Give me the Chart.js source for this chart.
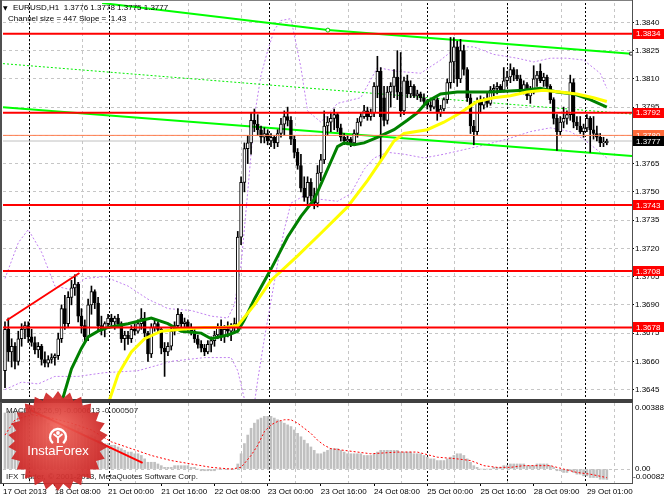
<!DOCTYPE html>
<html>
<head>
<meta charset="utf-8">
<script src="https://cdn.jsdelivr.net/npm/chart.js@4.4.1/dist/chart.umd.min.js"></script>
<style>
html,body{margin:0;padding:0;background:#ffffff;}
#wrap{position:relative;width:664px;height:498px;overflow:hidden;background:#ffffff;}
canvas{position:absolute;left:0;}
#priceCanvas{top:0;}
#macdCanvas{top:402px;}
</style>
</head>
<body>
<div id="wrap">
<canvas id="priceCanvas" width="664" height="402" style="width:664px;height:402px"></canvas>
<canvas id="macdCanvas" width="664" height="96" style="width:664px;height:96px"></canvas>
</div>
<script>
// ---------------- DATA (EURUSD H1, bar index 0 = first visible bar) ----------------
const opens = [
1.3655,1.3677,1.3665,1.3668,1.3660,1.3672,1.3677,1.3679,1.3673,1.3670,
1.3666,1.3668,1.3661,1.3659,1.3661,1.3662,1.3663,1.3672,1.3688,1.3680,
1.3694,1.3699,1.3701,1.3684,1.3679,1.3673,1.3690,1.3697,1.3691,1.3679,
1.3677,1.3680,1.3683,1.3681,1.3683,1.3680,1.3672,1.3674,1.3672,1.3677,
1.3676,1.3680,1.3683,1.3675,1.3664,1.3678,1.3680,1.3677,1.3667,1.3665,
1.3668,1.3676,1.3679,1.3685,1.3680,1.3681,1.3678,1.3676,1.3672,1.3669,
1.3667,1.3665,1.3669,1.3671,1.3674,1.3678,1.3673,1.3677,1.3676,1.3678,
1.3679,1.3726,1.3755,1.3773,1.3776,1.3788,1.3786,1.3783,1.3779,1.3781,
1.3777,1.3779,1.3776,1.3781,1.3786,1.3790,1.3788,1.3778,1.3771,1.3764,
1.3752,1.3747,1.3755,1.3748,1.3744,1.3760,1.3767,1.3785,1.3787,1.3789,
1.3791,1.3784,1.3779,1.3777,1.3778,1.3776,1.3781,1.3787,1.3790,1.3793,
1.3790,1.3792,1.3806,1.3814,1.3800,1.3788,1.3803,1.3806,1.3811,1.3803,
1.3793,1.3809,1.3802,1.3806,1.3801,1.3802,1.3800,1.3798,1.3796,1.3795,
1.3799,1.3792,1.3794,1.3799,1.3808,1.3819,1.3827,1.3810,1.3825,1.3815,
1.3800,1.3785,1.3782,1.3798,1.3796,1.3799,1.3797,1.3804,1.3805,1.3806,
1.3804,1.3809,1.3811,1.3815,1.3812,1.3810,1.3804,1.3807,1.3801,1.3803,
1.3810,1.3814,1.3809,1.3811,1.3806,1.3799,1.3789,1.3782,1.3787,1.3789,
1.3791,1.3808,1.3787,1.3785,1.3782,1.3784,1.3789,1.3783,1.3781,1.3779,
1.3776,1.3776];
const highs = [
1.3681,1.3683,1.3672,1.3670,1.3676,1.3680,1.3681,1.3681,1.3677,1.3673,
1.3670,1.3669,1.3665,1.3663,1.3664,1.3664,1.3675,1.3690,1.3695,1.3697,
1.3703,1.3706,1.3702,1.3688,1.3682,1.3693,1.3700,1.3698,1.3694,1.3684,
1.3681,1.3685,1.3685,1.3684,1.3685,1.3681,1.3676,1.3676,1.3679,1.3680,
1.3682,1.3688,1.3686,1.3676,1.3680,1.3682,1.3681,1.3678,1.3670,1.3670,
1.3678,1.3681,1.3688,1.3686,1.3683,1.3682,1.3680,1.3677,1.3674,1.3671,
1.3669,1.3671,1.3673,1.3676,1.3680,1.3682,1.3679,1.3681,1.3680,1.3683,
1.3729,1.3758,1.3776,1.3780,1.3792,1.3794,1.3791,1.3785,1.3784,1.3783,
1.3781,1.3780,1.3783,1.3789,1.3793,1.3795,1.3790,1.3780,1.3773,1.3770,
1.3758,1.3758,1.3757,1.3752,1.3764,1.3770,1.3793,1.3790,1.3792,1.3794,
1.3792,1.3786,1.3781,1.3780,1.3779,1.3783,1.3789,1.3792,1.3796,1.3795,
1.3794,1.3808,1.3822,1.3816,1.3806,1.3806,1.3808,1.3815,1.3825,1.3824,
1.3811,1.3812,1.3809,1.3807,1.3804,1.3803,1.3802,1.3799,1.3798,1.3800,
1.3800,1.3796,1.3800,1.3810,1.3832,1.3832,1.3830,1.3831,1.3828,1.3816,
1.3802,1.3788,1.3800,1.3801,1.3800,1.3803,1.3806,1.3807,1.3808,1.3807,
1.3816,1.3814,1.3818,1.3816,1.3815,1.3812,1.3809,1.3808,1.3806,1.3817,
1.3814,1.3818,1.3813,1.3812,1.3807,1.3800,1.3791,1.3790,1.3795,1.3793,
1.3812,1.3810,1.3790,1.3790,1.3786,1.3791,1.3790,1.3790,1.3785,1.3781,
1.3779,1.3778];
const lows = [
1.3646,1.3660,1.3657,1.3656,1.3658,1.3668,1.3672,1.3670,1.3668,1.3664,
1.3662,1.3658,1.3657,1.3657,1.3659,1.3658,1.3661,1.3670,1.3677,1.3678,
1.3690,1.3695,1.3681,1.3675,1.3670,1.3671,1.3685,1.3688,1.3676,1.3674,
1.3673,1.3678,1.3679,1.3677,1.3679,1.3670,1.3666,1.3669,1.3670,1.3674,
1.3675,1.3677,1.3673,1.3660,1.3662,1.3676,1.3675,1.3664,1.3652,1.3663,
1.3666,1.3674,1.3677,1.3678,1.3677,1.3676,1.3674,1.3670,1.3667,1.3665,
1.3663,1.3664,1.3665,1.3668,1.3672,1.3671,1.3670,1.3673,1.3671,1.3675,
1.3676,1.3722,1.3750,1.3765,1.3770,1.3782,1.3780,1.3776,1.3776,1.3775,
1.3774,1.3773,1.3774,1.3779,1.3780,1.3785,1.3775,1.3768,1.3762,1.3750,
1.3745,1.3743,1.3745,1.3741,1.3742,1.3756,1.3765,1.3780,1.3782,1.3783,
1.3782,1.3777,1.3775,1.3775,1.3774,1.3775,1.3779,1.3785,1.3789,1.3788,
1.3788,1.3790,1.3800,1.3767,1.3785,1.3786,1.3795,1.3800,1.3799,1.3790,
1.3791,1.3800,1.3800,1.3800,1.3799,1.3798,1.3796,1.3794,1.3793,1.3794,
1.3788,1.3790,1.3793,1.3797,1.3805,1.3808,1.3806,1.3808,1.3812,1.3798,
1.3781,1.3775,1.3780,1.3792,1.3794,1.3795,1.3796,1.3801,1.3802,1.3803,
1.3803,1.3806,1.3808,1.3809,1.3809,1.3802,1.3802,1.3799,1.3797,1.3802,
1.3806,1.3808,1.3806,1.3804,1.3797,1.3786,1.3772,1.3780,1.3784,1.3786,
1.3788,1.3784,1.3783,1.3781,1.3779,1.3782,1.3771,1.3778,1.3777,1.3774,
1.3774,1.3775];
const closes = [
1.3677,1.3665,1.3668,1.3660,1.3672,1.3677,1.3679,1.3673,1.3670,1.3666,
1.3668,1.3661,1.3659,1.3661,1.3662,1.3663,1.3672,1.3688,1.3680,1.3694,
1.3699,1.3701,1.3684,1.3679,1.3673,1.3690,1.3697,1.3691,1.3679,1.3677,
1.3680,1.3683,1.3681,1.3683,1.3680,1.3672,1.3674,1.3672,1.3677,1.3676,
1.3680,1.3683,1.3675,1.3664,1.3678,1.3680,1.3677,1.3667,1.3665,1.3668,
1.3676,1.3679,1.3685,1.3680,1.3681,1.3678,1.3676,1.3672,1.3669,1.3667,
1.3665,1.3669,1.3671,1.3674,1.3678,1.3673,1.3677,1.3676,1.3678,1.3680,
1.3726,1.3755,1.3773,1.3776,1.3788,1.3786,1.3783,1.3779,1.3781,1.3777,
1.3779,1.3776,1.3781,1.3786,1.3790,1.3788,1.3778,1.3771,1.3764,1.3752,
1.3747,1.3755,1.3748,1.3744,1.3760,1.3767,1.3785,1.3787,1.3789,1.3791,
1.3784,1.3779,1.3777,1.3778,1.3776,1.3781,1.3787,1.3790,1.3793,1.3790,
1.3792,1.3806,1.3814,1.3790,1.3788,1.3803,1.3806,1.3811,1.3803,1.3793,
1.3809,1.3802,1.3806,1.3801,1.3802,1.3800,1.3798,1.3796,1.3795,1.3799,
1.3792,1.3794,1.3799,1.3808,1.3819,1.3827,1.3810,1.3825,1.3815,1.3800,
1.3785,1.3782,1.3798,1.3796,1.3799,1.3797,1.3804,1.3805,1.3806,1.3804,
1.3809,1.3811,1.3815,1.3812,1.3810,1.3804,1.3807,1.3801,1.3803,1.3810,
1.3812,1.3809,1.3811,1.3806,1.3799,1.3789,1.3782,1.3787,1.3789,1.3791,
1.3808,1.3787,1.3785,1.3782,1.3784,1.3789,1.3783,1.3781,1.3779,1.3776,
1.3776,1.3777];

// moving averages (read at sample bars)
const maGreenBars = [16,20,23,25,28,31,37,44,49,53,59,62,67,70,72,75,80,85,89,93,98,100,102,105,108,112,117,121,124,127,131,136,146,156,161,166,171,176,181];
const maGreenVals = [1.3632,1.3656,1.3667,1.3673,1.3676,1.3678,1.3680,1.3683,1.3680,1.3676,1.3675,1.3672,1.3674,1.3676,1.3682,1.3693,1.3709,1.3726,1.3737,1.3746,1.3766,1.3774,1.3776,1.3775,1.3776,1.3779,1.3783,1.3788,1.3792,1.3798,1.3802,1.3803,1.3803,1.3804,1.3805,1.3803,1.3802,1.3799,1.3795];
const maYellowBars = [30,34,38,42,47,53,60,66,70,75,80,88,95,103,109,114,117,120,127,132,137,142,147,152,157,162,167,172,177,181];
const maYellowVals = [1.3632,1.3653,1.3665,1.3672,1.3676,1.3677,1.3678,1.3678,1.3679,1.3690,1.3703,1.3716,1.3728,1.3742,1.3756,1.3769,1.3777,1.3781,1.3783,1.3787,1.3792,1.3798,1.3800,1.3801,1.3803,1.3804,1.3803,1.3802,1.3800,1.3798];
const bbUpperBars = [0,4,7,11,15,20,24,30,37,43,49,56,62,67,69,71,73,75,77,79,81,83,86,89,91,95,100,107,112,118,125,131,136,141,147,154,159,164,169,174,179,181];
const bbUpperVals = [1.3704,1.3723,1.3730,1.3718,1.3700,1.3698,1.3704,1.3705,1.3700,1.3693,1.3688,1.3687,1.3684,1.3683,1.3690,1.3711,1.3750,1.3790,1.3812,1.3825,1.3836,1.3841,1.3842,1.3816,1.3793,1.3787,1.3797,1.3800,1.3816,1.3814,1.3813,1.3820,1.3827,1.3827,1.3823,1.3821,1.3819,1.3821,1.3821,1.3820,1.3813,1.3805];
const bbLowerBars = [0,5,10,15,22,30,40,50,60,68,70,72,74,76,78,80,82,84,86,90,95,100,104,108,111,115,120,126,132,137,142,151,158,164,170,174,179,181];
const bbLowerVals = [1.3645,1.3649,1.3648,1.3652,1.3652,1.3654,1.3655,1.3660,1.3662,1.3662,1.3655,1.3640,1.3625,1.3650,1.3672,1.3692,1.3712,1.3730,1.3744,1.3748,1.3746,1.3745,1.3749,1.3762,1.3768,1.3771,1.3770,1.3768,1.3770,1.3772,1.3774,1.3778,1.3782,1.3784,1.3782,1.3778,1.3771,1.3768];

// drawn objects
const levels = [1.3834, 1.3792, 1.3743, 1.3708, 1.3678];
const upperBars = [29.2, 97.1, 188.3];
const upperVals = [1.38503, 1.38359, 1.38234];
const channelBars = [-0.6, 188.6];
const channelLower = [1.37950, 1.37691];
const channelMid = [1.38181, 1.37913];
const trendBars = [0.45, 22.4];
const trendVals = [1.36817, 1.37069];
const markPrice = 1.3780;
const bidPrice = 1.3777;
const tagPrices = [1.3834, 1.3792, 1.3743, 1.3708, 1.3678, 1.3780, 1.3777];
const tagColors = ['#ff0000','#ff0000','#ff0000','#ff0000','#ff0000','#ff6a3a','#000000'];

// MACD(12,26,9)
const macdHist = [
0.0033,0.0034,0.0034,0.0034,0.0034,0.0034,0.0035,0.0035,0.0035,0.0034,
0.0033,0.0031,0.0029,0.0027,0.0025,0.0024,0.0024,0.0025,0.0025,0.0026,
0.0026,0.0026,0.0024,0.0022,0.0020,0.0020,0.0020,0.0019,0.0017,0.0016,
0.0015,0.0015,0.0014,0.0014,0.0013,0.0012,0.0011,0.0010,0.0010,0.0009,
0.0009,0.0008,0.0006,0.0004,0.0004,0.0004,0.0003,0.0002,0.0001,0.0001,
0.0001,0.0002,0.0002,0.0002,0.0002,0.0002,0.0001,0.0001,0.0000,-0.0001,
-0.0001,-0.0001,-0.0001,-0.0001,0.0000,0.0000,0.0000,0.0000,0.0000,0.0000,
0.0003,0.0009,0.0015,0.0020,0.0024,0.0027,0.0029,0.0030,0.0031,0.0031,
0.0031,0.0030,0.0029,0.0028,0.0027,0.0026,0.0025,0.0023,0.0021,0.0019,
0.0017,0.0015,0.0013,0.0011,0.0009,0.0009,0.0010,0.0011,0.0012,0.0012,
0.0012,0.0011,0.0010,0.0009,0.0009,0.0009,0.0009,0.0009,0.0008,0.0008,
0.0008,0.0009,0.0010,0.0011,0.0011,0.0011,0.0011,0.0011,0.0011,0.0010,
0.0010,0.0010,0.0010,0.0009,0.0009,0.0009,0.0008,0.0007,0.0006,0.0006,
0.0005,0.0005,0.0005,0.0006,0.0007,0.0008,0.0009,0.0009,0.0008,0.0006,
0.0004,0.0002,0.0001,0.0000,0.0000,0.0000,0.0000,0.0001,0.0001,0.0001,
0.0002,0.0002,0.0003,0.0003,0.0003,0.0003,0.0003,0.0002,0.0002,0.0002,
0.0003,0.0003,0.0003,0.0003,0.0002,0.0001,-0.0001,-0.0001,-0.0002,-0.0002,
-0.0001,-0.0002,-0.0003,-0.0003,-0.0004,-0.0004,-0.0005,-0.0005,-0.0005,-0.0006,
-0.0006,-0.000613];
const signalBars = [0,3,8,14,20,26,32,38,44,50,56,62,68,71,74,76,78,80,82,84,86,88,90,92,94,96,98,102,110,118,124,130,136,140,144,148,152,156,160,164,168,172,176,181];
const signalVals = [0.0020,0.0029,0.0032,0.0030,0.0027,0.0023,0.0016,0.0012,0.0008,0.0005,0.0003,0.0001,0.0000,0.0001,0.0008,0.0014,0.0022,0.0026,0.0028,0.0029,0.0029,0.0027,0.0024,0.0021,0.0017,0.0014,0.0012,0.0011,0.0009,0.0010,0.0010,0.0007,0.0006,0.0005,0.0002,0.0001,0.0001,0.0002,0.0002,0.0002,0.0000,-0.0002,-0.0003,-0.000507];
const macdTrendBars = [7.7, 41.4];
const macdTrendVals = [0.00347, 0.00036];

// axes
const priceTicks = [1.3645,1.3660,1.3675,1.3690,1.3705,1.3720,1.3735,1.3750,1.3765,1.3780,1.3795,1.3810,1.3825,1.3840];
const macdLabels = [0.003886, 0, -0.00082];
const dateTickBars = [-0.6,15,31,47,63,79,95,111,127,143,159,175];
const dateLabels = ['17 Oct 2013','18 Oct 08:00','21 Oct 00:00','21 Oct 16:00','22 Oct 08:00','23 Oct 00:00','23 Oct 16:00','24 Oct 08:00','25 Oct 00:00','25 Oct 16:00','28 Oct 09:00','29 Oct 01:00'];
const gridBars = [7.25,23.25,39.25,55.25,71.25,87.25,103.25,119.25,135.25,151.25,167.25,183.25];
const sessionBars = [7.3,31.4,79.3,126.8,151.0,174.5];

// ---------------- SETTINGS ----------------
const FONT = '"Liberation Sans", Arial, Helvetica, sans-serif';
const X_MIN = -0.6, X_MAX = 188.57;
const PRICE_MIN = 1.36400, PRICE_MAX = 1.38503;
const MACD_MIN = -0.00082, MACD_MAX = 0.003886;
const AXIS_W = 32;
const N = closes.length;

Chart.defaults.font.family = FONT;
Chart.defaults.font.size = 8;
Chart.defaults.color = '#000';

const pts = (bars, vals) => bars.map((b, k) => ({x: b, y: vals[k]}));
function lineDS(data, color, width, dash, order) {
  return {type:'line', data, borderColor:color, backgroundColor:color, borderWidth:width, borderDash:dash || [],
          pointRadius:0, pointHoverRadius:0, fill:false, tension:0, order, clip:0};
}

function gridX() {
  return {type:'linear', position:'bottom', min:X_MIN, max:X_MAX, offset:false,
    ticks:{display:false},
    grid:{display:true, drawOnChartArea:true, drawTicks:false, color:'#c6c6c6', lineWidth:1, offset:false},
    border:{display:false, dash:[3,3]},
    afterBuildTicks: s => { s.ticks = gridBars.map(v => ({value:v})); },
    afterFit: s => { s.height = 0; s.paddingLeft = 0; s.paddingRight = 0; }
  };
}

function sessionLines(chart) {
  const {ctx, chartArea:a} = chart; const x = chart.scales.x;
  ctx.save();
  ctx.beginPath(); ctx.rect(a.left, a.top, a.right - a.left, a.bottom - a.top); ctx.clip();
  ctx.strokeStyle = '#000'; ctx.lineWidth = 1; ctx.setLineDash([2,2]);
  sessionBars.forEach(b => {
    const px = Math.round(x.getPixelForValue(b)) + 0.5;
    ctx.beginPath(); ctx.moveTo(px, a.top); ctx.lineTo(px, a.bottom); ctx.stroke();
  });
  ctx.restore();
}

function drawLogo(ctx, oy) {
  const cx = 58, cy = 441 - oy;
  ctx.save();
  ctx.beginPath();
  const n = 26;
  for (let k = 0; k < 2 * n; k++) {
    const ang = -Math.PI / 2 + k * Math.PI / n;
    const rr = (k % 2 === 0) ? 50 : 43;
    const px = cx + rr * Math.cos(ang), py = cy + rr * Math.sin(ang);
    if (k === 0) ctx.moveTo(px, py); else ctx.lineTo(px, py);
  }
  ctx.closePath();
  const g = ctx.createRadialGradient(cx, cy - 12, 4, cx, cy, 50);
  g.addColorStop(0, 'rgba(238,96,86,0.93)');
  g.addColorStop(1, 'rgba(204,36,36,0.93)');
  ctx.fillStyle = g; ctx.fill();
  // icon
  ctx.strokeStyle = '#fff'; ctx.fillStyle = '#fff';
  ctx.lineWidth = 2.4;
  ctx.beginPath(); ctx.arc(cx, cy - 4, 8, 0.72 * Math.PI, 0.28 * Math.PI); ctx.stroke();
  ctx.beginPath(); ctx.arc(cx, cy - 8, 1.9, 0, Math.PI * 2); ctx.fill();
  ctx.lineWidth = 1.8;
  ctx.beginPath(); ctx.moveTo(cx - 4.5, cy - 7); ctx.lineTo(cx, cy - 3.5); ctx.lineTo(cx + 4.5, cy - 7); ctx.stroke();
  ctx.beginPath(); ctx.moveTo(cx, cy - 3.5); ctx.lineTo(cx, cy + 2); ctx.stroke();
  ctx.font = '13px ' + FONT; ctx.textAlign = 'center'; ctx.textBaseline = 'middle';
  ctx.fillText('InstaForex', cx, cy + 10);
  ctx.restore();
}

// ---------------- PRICE PANEL ----------------
const pricePlugin = {
  id: 'pricePanel',
  beforeDatasetsDraw(chart) { sessionLines(chart); },
  afterDraw(chart) {
    const {ctx, chartArea:a} = chart; const y = chart.scales.y;
    ctx.save();
    ctx.fillStyle = '#808080'; ctx.fillRect(0, 0, a.right, 1);
    ctx.fillStyle = '#505050';
    ctx.fillRect(0, 0, 2, chart.height);
    ctx.fillRect(a.right, 0, 1, chart.height);
    ctx.fillStyle = '#404040'; ctx.fillRect(0, a.bottom, a.right + 1, chart.height - a.bottom);
    // header texts
    ctx.fillStyle = '#000'; ctx.textAlign = 'left'; ctx.textBaseline = 'middle';
    ctx.font = '6px "DejaVu Sans"'; ctx.fillText('\u25BC', 3, 8);
    ctx.font = '8px ' + FONT;
    const last = N - 1;
    ctx.fillText('EURUSD,H1  ' + [opens[last], highs[last], lows[last], closes[last]].map(v => v.toFixed(4)).join(' '), 13, 8);
    ctx.fillText('Channel size = 447 Slope = :1.43', 8, 18.5);
    // price tags
    tagPrices.forEach((v, k) => {
      const py = y.getPixelForValue(v);
      ctx.fillStyle = tagColors[k];
      ctx.fillRect(a.right + 1, Math.round(py) - 5, chart.width - a.right - 1, 10);
      ctx.fillStyle = '#ffffff';
      ctx.fillText(v.toFixed(4), a.right + 4, py + 0.5);
    });
    drawLogo(ctx, 0);
    ctx.restore();
  }
};

const upperDS = lineDS(pts(upperBars, upperVals), '#00ff00', 2, [], 4);
upperDS.pointRadius = [0, 2, 2];
upperDS.pointStyle = ['circle', 'circle', 'rect'];
upperDS.pointBackgroundColor = '#ffffff';
upperDS.pointBorderColor = ['#00ff00', '#00c000', '#303030'];
upperDS.pointBorderWidth = 1;

const priceDatasets = [
  ...levels.map(v => lineDS([{x:X_MIN - 1, y:v}, {x:X_MAX + 1, y:v}], '#ff0000', 2, [], 0)),
  lineDS(pts(trendBars, trendVals), '#ff0000', 2, [], 0),
  lineDS([{x:X_MIN - 1, y:markPrice}, {x:X_MAX + 1, y:markPrice}], '#ff7f50', 1, [], 0),
  lineDS([{x:X_MIN - 1, y:bidPrice}, {x:X_MAX + 1, y:bidPrice}], '#c0c0c0', 1, [], 6),
  lineDS(pts(maYellowBars, maYellowVals), '#ffff00', 3, [], 1),
  lineDS(pts(maGreenBars, maGreenVals), '#008000', 3, [], 1),
  {type:'bar', data: opens.map((o, i) => ({x:i, y:[Math.min(o, closes[i]), Math.max(o, closes[i])]})),
   backgroundColor: opens.map((o, i) => closes[i] >= o ? '#ffffff' : '#000000'),
   borderColor:'#000000', borderWidth:1, borderSkipped:false, barThickness:3, minBarLength:1,
   grouped:false, order:2, clip:0},
  {type:'bar', data: lows.map((l, i) => ({x:i, y:[l, highs[i]]})),
   backgroundColor:'#000000', borderWidth:0, barThickness:1, grouped:false, order:3, clip:0},
  upperDS,
  lineDS(pts(channelBars, channelLower), '#00ff00', 2, [], 4),
  lineDS(pts(channelBars, channelMid), '#00ee00', 1, [2,2], 4),
  lineDS(pts(bbUpperBars, bbUpperVals), '#c080f0', 1, [2,2], 5),
  lineDS(pts(bbLowerBars, bbLowerVals), '#c080f0', 1, [2,2], 5)
];

new Chart(document.getElementById('priceCanvas'), {
  type: 'bar',
  data: {datasets: priceDatasets},
  options: {
    responsive:false, animation:false, events:[], devicePixelRatio:1,
    layout:{padding:{left:3, top:2, right:0, bottom:1}},
    plugins:{legend:{display:false}, tooltip:{enabled:false}},
    scales:{
      x: gridX(),
      y: {type:'linear', position:'right', min:PRICE_MIN, max:PRICE_MAX,
          afterBuildTicks: s => { s.ticks = priceTicks.map(v => ({value:v})); },
          afterFit: s => { s.width = AXIS_W; s.paddingTop = 0; s.paddingBottom = 0; },
          ticks:{autoSkip:false, padding:1, callback: v => Number(v).toFixed(4), font:{size:8}, color:'#000'},
          grid:{color:'#c6c6c6', drawTicks:true, tickLength:2, tickColor:'#000'},
          border:{display:false, dash:[3,3]}}
    }
  },
  plugins:[pricePlugin]
});

// ---------------- MACD PANEL ----------------
const macdPlugin = {
  id: 'macdPanel',
  beforeDatasetsDraw(chart) { sessionLines(chart); },
  afterDraw(chart) {
    const {ctx, chartArea:a} = chart; const y = chart.scales.y;
    ctx.save();
    ctx.fillStyle = '#404040'; ctx.fillRect(0, 0, a.right + 1, 1);
    ctx.fillStyle = '#505050';
    ctx.fillRect(0, 0, 2, a.bottom + 1);
    ctx.fillRect(a.right, 0, 1, a.bottom + 1);
    ctx.fillRect(0, a.bottom, a.right + 1, 1);
    ctx.fillStyle = '#000'; ctx.textAlign = 'left'; ctx.textBaseline = 'middle';
    ctx.font = '8px ' + FONT;
    const z = y.getPixelForValue(0);
    ctx.fillText(macdLabels[0].toFixed(6), a.right + 3, y.getPixelForValue(macdLabels[0]) + 4.5);
    ctx.fillText(macdLabels[1].toFixed(2), a.right + 3, z);
    ctx.fillText(macdLabels[2].toFixed(5), a.right + 1, z + 8);
    ctx.fillStyle = '#202020';
    ctx.fillText('MACD(12,26,9) ' + macdHist[N - 1].toFixed(6) + ' ' + signalVals[signalVals.length - 1].toFixed(6), 6, a.top + 7.5);
    ctx.fillText('IFX Trader, \u00A9 2001-2013, MetaQuotes Software Corp.', 6, a.bottom - 6.5);
    drawLogo(ctx, 402);
    ctx.restore();
  }
};

new Chart(document.getElementById('macdCanvas'), {
  type: 'bar',
  data: {datasets: [
    lineDS(pts(macdTrendBars, macdTrendVals), '#ff0000', 2, [], 0),
    lineDS(pts(signalBars, signalVals), '#ff0000', 1, [2,2], 1),
    {type:'bar', data: macdHist.map((v, i) => ({x:i, y:v})), backgroundColor:'#c0c0c0', borderWidth:0,
     barThickness:2, grouped:false, order:2, clip:0}
  ]},
  options: {
    responsive:false, animation:false, events:[], devicePixelRatio:1,
    layout:{padding:{left:3, top:1, right:0, bottom:0}},
    plugins:{legend:{display:false}, tooltip:{enabled:false}},
    scales:{
      x: gridX(),
      xl: {type:'linear', position:'bottom', min:X_MIN, max:X_MAX, offset:false,
           afterBuildTicks: s => { s.ticks = dateTickBars.map(v => ({value:v})); },
           afterFit: s => { s.height = 15; s.paddingLeft = 0; s.paddingRight = 0; },
           ticks:{autoSkip:false, maxRotation:0, minRotation:0, align:'start', padding:1,
                  callback: (v, i) => dateLabels[i], font:{size:8}, color:'#000'},
           grid:{display:true, drawOnChartArea:false, drawTicks:true, tickLength:3, tickColor:'#000', color:'#000', offset:false},
           border:{display:false}},
      y: {type:'linear', position:'right', min:MACD_MIN, max:MACD_MAX,
          afterBuildTicks: s => { s.ticks = [{value:0}]; },
          afterFit: s => { s.width = AXIS_W; s.paddingTop = 0; s.paddingBottom = 0; },
          ticks:{display:false},
          grid:{color:'#c6c6c6', drawTicks:false},
          border:{display:false, dash:[3,3]}}
    }
  },
  plugins:[macdPlugin]
});
</script>
</body>
</html>
